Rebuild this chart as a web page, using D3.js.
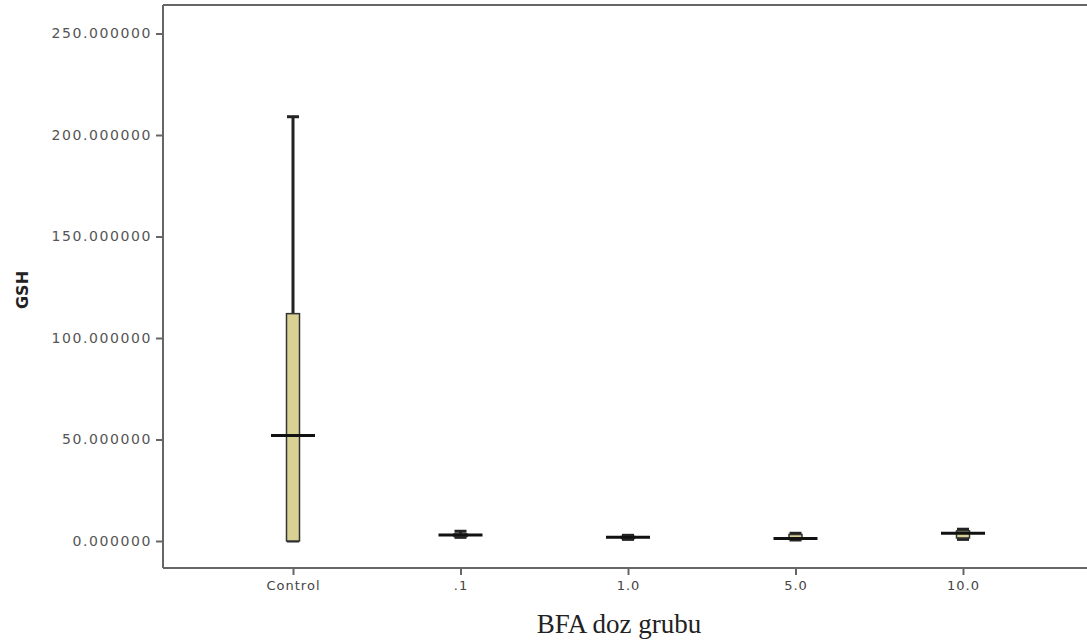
<!DOCTYPE html>
<html><head><meta charset="utf-8">
<script src="https://cdn.jsdelivr.net/npm/d3@7"></script>
<style>body{margin:0;background:#fff}</style>
</head><body><svg id="c" width="1087" height="642"></svg>
<script>
const categories = ["Control", ".1", "1.0", "5.0", "10.0"];
const whiskerLow  = [0,   1.8, 0.8, 0.5, 0.8];
const q1          = [0,   2.2, 1.2, 0.8, 1.5];
const medians     = [52,  2.9, 1.8, 1.2, 3.8];
const q3          = [112, 3.5, 2.3, 3.2, 5.0];
const whiskerHigh = [209, 4.8, 2.8, 3.8, 5.8];
const yTicks = [0, 50, 100, 150, 200, 250];

const svg = d3.select("#c");
const L = 163, T = 5, R = 1093, B = 568;
const y = d3.scaleLinear().domain([0, 250]).range([541, 33.5]);
const x = d3.scalePoint().domain(categories).range([293, 963]);

const gray = "#666";
// frame
svg.append("line").attr("x1", L).attr("x2", L).attr("y1", T).attr("y2", B).attr("stroke", gray).attr("stroke-width", 2);
svg.append("line").attr("x1", L).attr("x2", R).attr("y1", T).attr("y2", T).attr("stroke", gray).attr("stroke-width", 2);
svg.append("line").attr("x1", L).attr("x2", R).attr("y1", B).attr("y2", B).attr("stroke", gray).attr("stroke-width", 2);

// y axis
const ya = svg.append("g").attr("transform", `translate(${L},0)`)
  .call(d3.axisLeft(y).tickValues(yTicks).tickSize(7).tickPadding(4).tickFormat(d3.format(".6f")));
ya.select(".domain").remove();
ya.selectAll("line").attr("stroke", gray).attr("stroke-width", 2);
ya.selectAll("text").attr("font-family", "DejaVu Sans, Verdana, sans-serif").attr("font-size", 14)
  .attr("letter-spacing", "1.6px").attr("fill", "#555");

// x axis
const xa = svg.append("g").attr("transform", `translate(0,${B})`)
  .call(d3.axisBottom(x).tickSize(7).tickPadding(6));
xa.select(".domain").remove();
xa.selectAll("line").attr("stroke", gray).attr("stroke-width", 2);
xa.selectAll("text").attr("font-family", "DejaVu Sans, Verdana, sans-serif").attr("font-size", 13)
  .attr("letter-spacing", "1px").attr("fill", "#444");

// boxes
const boxW = 13, medW = 44, capW = 12;
const g = svg.append("g");
categories.forEach((c, i) => {
  const cx = x(c);
  g.append("line").attr("x1", cx).attr("x2", cx).attr("y1", y(whiskerLow[i])).attr("y2", y(whiskerHigh[i]))
    .attr("stroke", "#222").attr("stroke-width", 3);
  g.append("line").attr("x1", cx - capW/2).attr("x2", cx + capW/2).attr("y1", y(whiskerHigh[i])).attr("y2", y(whiskerHigh[i]))
    .attr("stroke", "#222").attr("stroke-width", 3);
  g.append("line").attr("x1", cx - capW/2).attr("x2", cx + capW/2).attr("y1", y(whiskerLow[i])).attr("y2", y(whiskerLow[i]))
    .attr("stroke", "#222").attr("stroke-width", 3);
  g.append("rect").attr("x", cx - boxW/2).attr("width", boxW)
    .attr("y", y(q3[i])).attr("height", Math.max(1, y(q1[i]) - y(q3[i])))
    .attr("fill", "#d8d193").attr("stroke", "#333").attr("stroke-width", 1.5);
  g.append("line").attr("x1", cx - medW/2).attr("x2", cx + medW/2).attr("y1", y(medians[i])).attr("y2", y(medians[i]))
    .attr("stroke", "#111").attr("stroke-width", 3);
});

// labels
svg.append("text").attr("transform", "translate(28,290) rotate(-90)").attr("text-anchor", "middle")
  .attr("font-family", "DejaVu Sans, Verdana, sans-serif").attr("font-weight", "bold").attr("font-size", 16).attr("fill", "#222").text("GSH");
svg.append("text").attr("x", 619).attr("y", 633).attr("text-anchor", "middle")
  .attr("font-family", "Liberation Serif, DejaVu Serif, serif").attr("font-size", 27).attr("fill", "#222").text("BFA doz grubu");
</script></body></html>
